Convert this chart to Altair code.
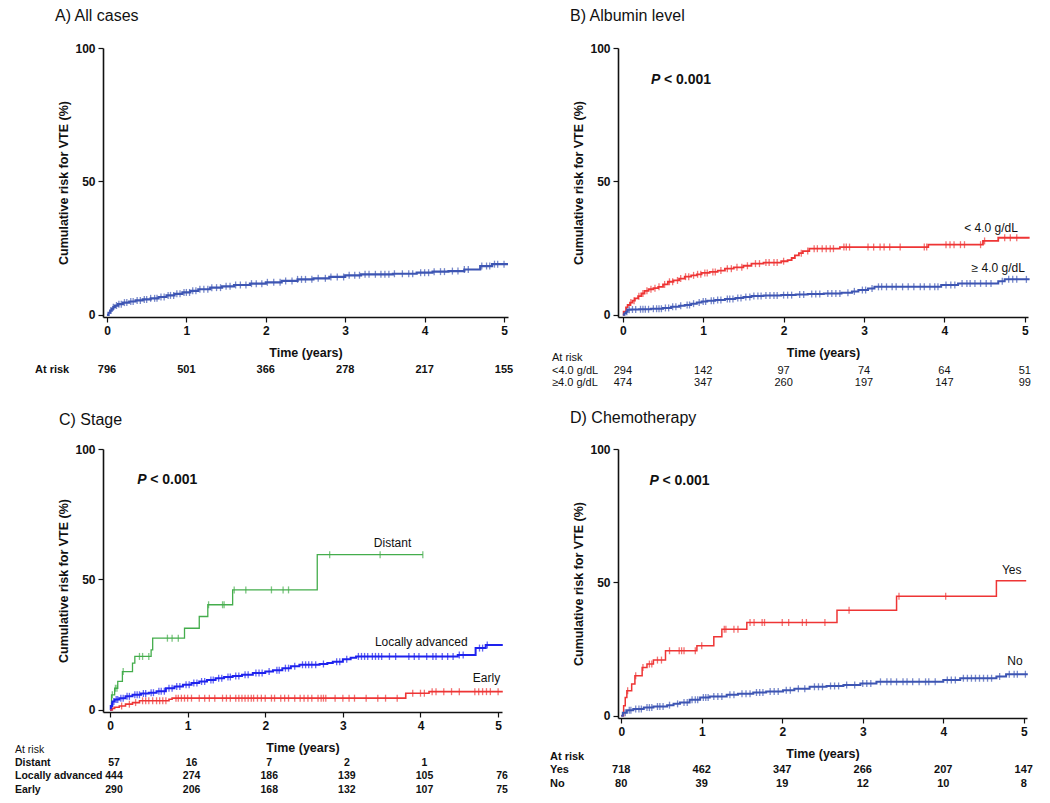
import altair as alt
import pandas as pd

FONT = "Liberation Sans"
BLACK = "#111111"
BLUE = "#3d55b3"
BLUE_C = "#1e22ee"
RED = "#ee3535"
GREEN = "#44ad4c"

TIME_TICKS = [0, 1, 2, 3, 4, 5]
RISK_TICKS = [0, 50, 100]
RISK_AT = [0, 1, 2, 3, 4, 5]

# ---------------- A) All cases ----------------
A_time = [0, 0.02, 0.04, 0.06, 0.08, 0.1, 0.14, 0.2, 0.28, 0.36, 0.45, 0.55, 0.65, 0.75,
          0.85, 0.95, 1.05, 1.15, 1.3, 1.45, 1.6, 1.8, 2.0, 2.2, 2.4, 2.6, 2.8, 3.0, 3.2,
          3.6, 3.9, 4.1, 4.3, 4.5, 4.7, 4.85, 5.05]
A_risk = [0, 0.8, 1.6, 2.3, 2.9, 3.5, 4.0, 4.6, 5.0, 5.4, 5.8, 6.2, 6.7, 7.3,
          7.9, 8.4, 9.0, 9.6, 10.2, 10.7, 11.2, 11.7, 12.2, 12.7, 13.3, 13.7, 14.2, 14.8, 15.2,
          15.4, 15.8, 16.2, 16.4, 17.0, 18.3, 19.0, 19.0]
A_cens = [0.05, 0.08, 0.12, 0.15, 0.18, 0.22, 0.25, 0.3, 0.33, 0.38, 0.42, 0.47, 0.5, 0.55,
          0.6, 0.63, 0.68, 0.72, 0.77, 0.8, 0.84, 0.88, 0.92, 0.97, 1.0, 1.04, 1.08, 1.12,
          1.17, 1.22, 1.27, 1.32, 1.38, 1.43, 1.5, 1.55, 1.62, 1.68, 1.75, 1.82, 1.88, 1.95,
          2.02, 2.1, 2.18, 2.25, 2.33, 2.4, 2.45, 2.5, 2.58, 2.66, 2.75, 2.82, 2.9, 2.98,
          3.05, 3.12, 3.18, 3.25, 3.3, 3.38, 3.45, 3.5, 3.55, 3.62, 3.72, 3.8, 3.85, 3.95,
          4.0, 4.05, 4.12, 4.2, 4.25, 4.35, 4.42, 4.5, 4.55, 4.72, 4.78, 4.82, 4.88, 4.92, 5.0]
A_rows = ["At risk"]
A_counts = [[796, 501, 366, 278, 217, 155]]

# ---------------- B) Albumin level ----------------
B_lo_time = [0, 0.01, 0.04, 0.06, 0.09, 0.12, 0.15, 0.19, 0.23, 0.27, 0.32, 0.38, 0.44, 0.5,
             0.56, 0.63, 0.7, 0.77, 0.85, 0.92, 0.98, 1.08, 1.18, 1.27, 1.38, 1.5, 1.6, 1.75,
             1.97, 2.05, 2.1, 2.14, 2.19, 2.24, 2.32, 2.7, 3.8, 4.48, 4.67, 5.06]
B_lo_risk = [0, 1.2, 2.8, 3.7, 4.6, 5.3, 6.2, 7.0, 8.0, 9.0, 9.6, 10.0, 10.5, 11.4,
             12.4, 12.9, 13.6, 14.3, 14.8, 15.2, 15.7, 16.1, 16.6, 17.3, 17.8, 18.4, 19.2, 19.6,
             20.1, 20.5, 21.3, 22.3, 23.1, 23.9, 24.8, 25.4, 26.3, 27.7, 28.9, 28.9]
B_lo_cens = [0.1, 0.14, 0.2, 0.25, 0.3, 0.35, 0.4, 0.45, 0.52, 0.58, 0.62, 0.68, 0.72, 0.78,
             0.82, 0.88, 0.93, 0.97, 1.02, 1.05, 1.12, 1.15, 1.22, 1.3, 1.35, 1.42, 1.48, 1.55,
             1.65, 1.7, 1.78, 1.82, 1.88, 1.92, 2.0, 2.22, 2.3, 2.38, 2.42, 2.48, 2.53, 2.58,
             2.62, 2.75, 2.78, 2.82, 3.05, 3.12, 3.2, 3.25, 3.32, 3.45, 3.75, 3.78, 4.02, 4.07,
             4.12, 4.2, 4.25, 4.45, 4.5, 4.75, 4.82, 4.9]
B_hi_time = [0, 0.02, 0.04, 0.06, 0.1, 0.2, 0.35, 0.5, 0.6, 0.7, 0.77, 0.85, 0.92, 0.98, 1.05,
             1.15, 1.27, 1.4, 1.5, 1.6, 1.75, 1.97, 2.15, 2.3, 2.5, 2.72, 2.85, 2.93, 3.05, 3.13,
             3.96, 4.17, 4.67, 4.75, 5.06]
B_hi_risk = [0, 0.6, 1.2, 1.9, 2.0, 2.1, 2.3, 2.6, 3.0, 3.4, 3.7, 4.2, 4.6, 5.0, 5.3,
             5.6, 5.9, 6.3, 6.7, 7.1, 7.3, 7.4, 7.6, 7.8, 8.0, 8.3, 8.8, 9.3, 9.9, 10.5,
             11.2, 11.8, 12.6, 13.3, 13.3]
B_hi_cens = [0.05, 0.08, 0.12, 0.16, 0.22, 0.25, 0.28, 0.32, 0.38, 0.42, 0.45, 0.48, 0.53, 0.57,
             0.62, 0.66, 0.72, 0.8, 0.83, 0.88, 0.95, 1.0, 1.03, 1.1, 1.13, 1.18, 1.22, 1.3,
             1.33, 1.37, 1.43, 1.47, 1.53, 1.58, 1.63, 1.68, 1.72, 1.78, 1.83, 1.88, 1.92, 2.0,
             2.05, 2.1, 2.2, 2.25, 2.35, 2.4, 2.45, 2.55, 2.6, 2.65, 2.7, 2.8, 2.88, 2.98, 3.02,
             3.1, 3.18, 3.22, 3.28, 3.35, 3.4, 3.48, 3.55, 3.62, 3.7, 3.75, 3.82, 3.88, 3.92,
             4.02, 4.08, 4.13, 4.22, 4.28, 4.32, 4.38, 4.45, 4.52, 4.58, 4.72, 4.8, 4.85, 4.9, 5.02]
B_rows = ["At risk", "<4.0 g/dL", "\u22654.0 g/dL"]
B_counts = [[None] * 6, [294, 142, 97, 74, 64, 51], [474, 347, 260, 197, 147, 99]]

# ---------------- C) Stage ----------------
C_d_time = [0, 0.02, 0.06, 0.1, 0.16, 0.29, 0.32, 0.53, 0.55, 0.96, 1.15, 1.26, 1.58, 2.67, 4.03]
C_d_risk = [0, 5.8, 8.3, 10.9, 14.7, 17.9, 20.5, 23.0, 27.5, 31.3, 35.8, 40.3, 46.0, 59.5, 59.5]
C_d_cens = [0.03, 0.07, 0.09, 0.17, 0.38, 0.42, 0.5, 0.74, 0.8, 0.88, 1.27, 1.45, 1.47, 1.6,
            1.75, 2.08, 2.23, 2.3, 2.83, 3.48, 4.03]
C_la_time = [0, 0.01, 0.03, 0.06, 0.12, 0.2, 0.29, 0.4, 0.5, 0.6, 0.72, 0.83, 0.94, 1.05, 1.15,
             1.25, 1.36, 1.47, 1.58, 1.7, 1.84, 2.0, 2.1, 2.22, 2.33, 2.44, 2.7, 2.8, 2.87, 3.0,
             3.1, 3.17, 4.48, 4.71, 4.84, 5.06]
C_la_risk = [0, 1.5, 3.2, 4.0, 4.5, 5.2, 5.8, 6.3, 6.6, 7.2, 8.3, 9.0, 9.6, 10.3, 10.9,
             11.5, 12.1, 12.6, 13.0, 13.5, 14.1, 14.7, 15.2, 16.0, 16.7, 17.3, 17.6, 18.0, 18.5, 19.4,
             20.0, 20.5, 21.0, 23.7, 24.9, 24.9]
C_la_cens = [0.02, 0.05, 0.08, 0.1, 0.14, 0.17, 0.22, 0.25, 0.32, 0.35, 0.38, 0.43, 0.46, 0.53,
             0.56, 0.63, 0.66, 0.7, 0.76, 0.8, 0.86, 0.9, 0.98, 1.02, 1.08, 1.12, 1.18, 1.22,
             1.3, 1.33, 1.4, 1.44, 1.52, 1.55, 1.62, 1.66, 1.74, 1.78, 1.88, 1.92, 1.96, 2.05,
             2.15, 2.18, 2.26, 2.3, 2.38, 2.48, 2.52, 2.56, 2.6, 2.65, 2.75, 2.92, 2.96, 3.05,
             3.2, 3.24, 3.28, 3.32, 3.38, 3.42, 3.46, 3.5, 3.6, 3.68, 3.85, 3.92, 3.98, 4.08,
             4.16, 4.2, 4.28, 4.35, 4.42, 4.5, 4.55, 4.76, 4.8, 4.86]
C_e_time = [0, 0.03, 0.06, 0.12, 0.2, 0.29, 0.38, 0.76, 0.8, 3.81, 4.11, 5.06]
C_e_risk = [0, 0.6, 1.0, 1.5, 2.2, 2.8, 3.5, 4.1, 4.5, 6.4, 7.0, 7.0]
C_e_cens = [0.15, 0.25, 0.33, 0.42, 0.46, 0.5, 0.55, 0.6, 0.64, 0.68, 0.72, 0.85, 0.88, 0.92,
            0.96, 1.0, 1.05, 1.15, 1.22, 1.28, 1.35, 1.45, 1.5, 1.55, 1.62, 1.66, 1.7, 1.74,
            1.78, 1.82, 1.85, 1.9, 1.95, 2.0, 2.08, 2.12, 2.2, 2.25, 2.3, 2.38, 2.45, 2.5,
            2.55, 2.6, 2.68, 2.72, 2.75, 2.78, 2.9, 3.0, 3.08, 3.15, 3.3, 3.45, 3.55, 3.7,
            3.9, 4.0, 4.05, 4.15, 4.2, 4.3, 4.4, 4.5, 4.7, 4.75, 4.8, 4.85, 4.9, 5.0]
C_rows = ["At risk", "Distant", "Locally advanced", "Early"]
C_counts = [[None] * 6, [57, 16, 7, 2, 1, None], [444, 274, 186, 139, 105, 76],
            [290, 206, 168, 132, 107, 75]]

# ---------------- D) Chemotherapy ----------------
D_y_time = [0, 0.03, 0.05, 0.07, 0.13, 0.17, 0.26, 0.32, 0.4, 0.55, 0.94, 1.15, 1.25, 1.56,
            2.68, 3.42, 4.66, 5.03]
D_y_risk = [0, 3.8, 6.9, 9.4, 11.9, 15.0, 18.1, 19.4, 20.9, 24.4, 26.3, 29.6, 32.5, 35.0,
            39.6, 44.8, 50.6, 50.6]
D_y_cens = [0.08, 0.18, 0.27, 0.35, 0.38, 0.45, 0.5, 0.6, 0.72, 0.75, 0.78, 0.92, 1.0, 1.28,
            1.3, 1.4, 1.45, 1.6, 1.65, 1.75, 1.78, 2.0, 2.08, 2.25, 2.3, 2.53, 2.83, 3.45, 4.03]
D_n_time = [0, 0.02, 0.07, 0.15, 0.28, 0.4, 0.57, 0.65, 0.73, 0.85, 0.98, 1.1, 1.31, 1.45,
            1.64, 1.8, 2.01, 2.15, 2.34, 2.55, 2.76, 2.97, 3.17, 4.0, 4.21, 4.66, 4.78, 5.05]
D_n_risk = [0, 1.2, 2.1, 2.6, 3.1, 3.5, 4.0, 4.5, 5.0, 6.0, 6.9, 7.3, 7.9, 8.3,
            8.75, 9.1, 9.6, 10.2, 10.9, 11.2, 11.6, 12.1, 12.75, 13.4, 14.1, 14.75, 15.6, 15.6]
D_n_cens = [0.05, 0.1, 0.12, 0.18, 0.22, 0.25, 0.32, 0.35, 0.38, 0.45, 0.48, 0.52, 0.6, 0.7,
            0.78, 0.82, 0.88, 0.92, 0.95, 1.02, 1.05, 1.08, 1.15, 1.2, 1.25, 1.35, 1.4, 1.5,
            1.55, 1.6, 1.68, 1.72, 1.76, 1.85, 1.9, 1.95, 2.05, 2.1, 2.2, 2.28, 2.4, 2.45,
            2.5, 2.6, 2.65, 2.7, 2.8, 2.9, 3.0, 3.05, 3.1, 3.22, 3.3, 3.35, 3.42, 3.5, 3.55,
            3.62, 3.7, 3.78, 3.82, 3.9, 4.05, 4.1, 4.15, 4.25, 4.3, 4.35, 4.4, 4.45, 4.5, 4.55,
            4.6, 4.7, 4.82, 4.88, 4.92, 5.02]
D_rows = ["At risk", "Yes", "No"]
D_counts = [[None] * 6, [718, 462, 347, 266, 207, 147], [80, 39, 19, 12, 10, 8]]

# annotations: (label, time, risk)
B_ann = [("< 4.0 g/dL", 4.58, 32.7), ("\u2265 4.0 g/dL", 4.67, 17.5)]
C_ann = [("Distant", 3.64, 64.0), ("Locally advanced", 4.01, 26.0), ("Early", 4.85, 12.3)]
D_ann = [("Yes", 4.85, 54.7), ("No", 4.89, 20.6)]
P_POS = (0.35, 88.0)


def step_at(times, risks, t):
    v = risks[0]
    for ti, ri in zip(times, risks):
        if ti <= t + 1e-9:
            v = ri
        else:
            break
    return v


def panel(title, title_dx, title_off, series, W, H, xdom, ann, pval, rows, counts,
          row_offsets, label_x, label_weights, num_weight, tfs, num_dx):
    xs = alt.Scale(domain=xdom, nice=False, zero=False)
    ys = alt.Scale(domain=[-0.8, 100], nice=False, zero=False)
    # identical axis spec in every layer so that the shared axes merge cleanly
    X = alt.X("t:Q", scale=xs, axis=alt.Axis(values=TIME_TICKS, format="d",
                                             title="Time (years)", titlePadding=10))
    Y = alt.Y("r:Q", scale=ys, axis=alt.Axis(values=RISK_TICKS,
                                             title="Cumulative risk for VTE (%)",
                                             titlePadding=4))

    layers = []
    for name, times, risks, cens, color, lw in series:
        ldf = pd.DataFrame({"t": times, "r": risks})
        layers.append(alt.Chart(ldf).mark_line(
            interpolate="step-after", strokeWidth=lw, color=color).encode(x=X, y=Y))
    for name, times, risks, cens, color, lw in series:
        cdf = pd.DataFrame({"t": cens, "r": [step_at(times, risks, t) for t in cens]})
        layers.append(alt.Chart(cdf).mark_tick(
            orient="vertical", size=7, thickness=1.3, color=color).encode(x=X, y=Y))
    if ann:
        adf = pd.DataFrame([{"label": a, "t": t, "r": r} for a, t, r in ann])
        layers.append(alt.Chart(adf).mark_text(font=FONT, fontSize=12, color=BLACK,
                                               align="center", baseline="middle")
                      .encode(x=X, y=Y, text="label:N"))
    if pval:
        pdf = pd.DataFrame([{"t": P_POS[0], "r": P_POS[1]}])
        layers.append(alt.Chart(pdf).mark_text(font=FONT, fontSize=14, fontWeight="bold",
                                               fontStyle="italic", color=BLACK,
                                               align="left", baseline="middle", text="P")
                      .encode(x=X, y=Y))
        layers.append(alt.Chart(pdf).mark_text(font=FONT, fontSize=14, fontWeight="bold",
                                               color=BLACK, align="left", baseline="middle",
                                               dx=13, text="< 0.001")
                      .encode(x=X, y=Y))

    # number-at-risk table, one text row per group, under the time axis
    for rname, vals, off, lwt in zip(rows, counts, row_offsets, label_weights):
        ndf = pd.DataFrame([{"t": t, "n": str(n)} for t, n in zip(RISK_AT, vals)
                            if n is not None])
        if len(ndf):
            layers.append(alt.Chart(ndf).mark_text(
                font=FONT, fontSize=tfs, fontWeight=num_weight, color=BLACK,
                align="center", baseline="middle", dx=num_dx)
                .encode(x=X, y=alt.value(H + off), text="n:N"))
        rdf = pd.DataFrame([{"row": rname}])
        layers.append(alt.Chart(rdf).mark_text(
            font=FONT, fontSize=tfs, fontWeight=lwt, color=BLACK,
            align="left", baseline="middle")
            .encode(x=alt.value(label_x), y=alt.value(H + off), text="row:N"))

    return alt.layer(*layers).properties(
        width=W, height=H,
        title=alt.TitleParams(text=title, anchor="start", frame="group", dx=title_dx,
                              offset=title_off, fontSize=16, fontWeight="normal", font=FONT,
                              color=BLACK))


pA = panel("A) All cases", -48, 18, [("All", A_time, A_risk, A_cens, BLUE, 2.2)],
           405, 269, [-0.05, 5.05], None, False, A_rows, A_counts,
           [53], -68, ["bold"], "bold", 11, 0)
pB = panel("B) Albumin level", -48, 18,
           [("<4.0", B_lo_time, B_lo_risk, B_lo_cens, RED, 1.8),
            (">=4.0", B_hi_time, B_hi_risk, B_hi_cens, BLUE, 2.0)],
           410, 269, [-0.06, 5.04], B_ann, True, B_rows, B_counts,
           [41, 54, 66], -66, ["normal", "normal", "normal"], "normal", 11, 0)
pC = panel("C) Stage", -44, 15,
           [("Distant", C_d_time, C_d_risk, C_d_cens, GREEN, 1.3),
            ("Locally advanced", C_la_time, C_la_risk, C_la_cens, BLUE_C, 2.0),
            ("Early", C_e_time, C_e_risk, C_e_cens, RED, 1.6)],
           399, 263, [-0.09, 5.05], C_ann, True, C_rows, C_counts,
           [38, 51, 64, 77.5], -88, ["normal", "bold", "bold", "bold"], "bold", 10.5, 4)
pD = panel("D) Chemotherapy", -48, 17,
           [("Yes", D_y_time, D_y_risk, D_y_cens, RED, 1.5),
            ("No", D_n_time, D_n_risk, D_n_cens, BLUE, 2.0)],
           409, 269, [-0.04, 5.04], D_ann, True, D_rows, D_counts,
           [39, 52, 66], -68, ["bold", "bold", "bold"], "bold", 11, 0)

chart = alt.concat(pA, pB, pC, pD, columns=2, bounds="flush",
                   spacing={"row": 132, "column": 110}).properties(
    padding={"left": 7, "top": 0, "right": 5, "bottom": 5}
).configure_view(stroke=None).configure_axis(
    domainColor=BLACK, domainWidth=1.6, tickColor=BLACK, tickWidth=1.2, tickSize=5,
    labelFont=FONT, labelFontSize=12, labelFontWeight="bold", labelColor=BLACK,
    labelPadding=3, titleFont=FONT, titleFontSize=12.5, titleFontWeight="bold",
    titleColor=BLACK, grid=False
)

chart.save("out.html", embed_options={"renderer": "svg", "actions": False})
